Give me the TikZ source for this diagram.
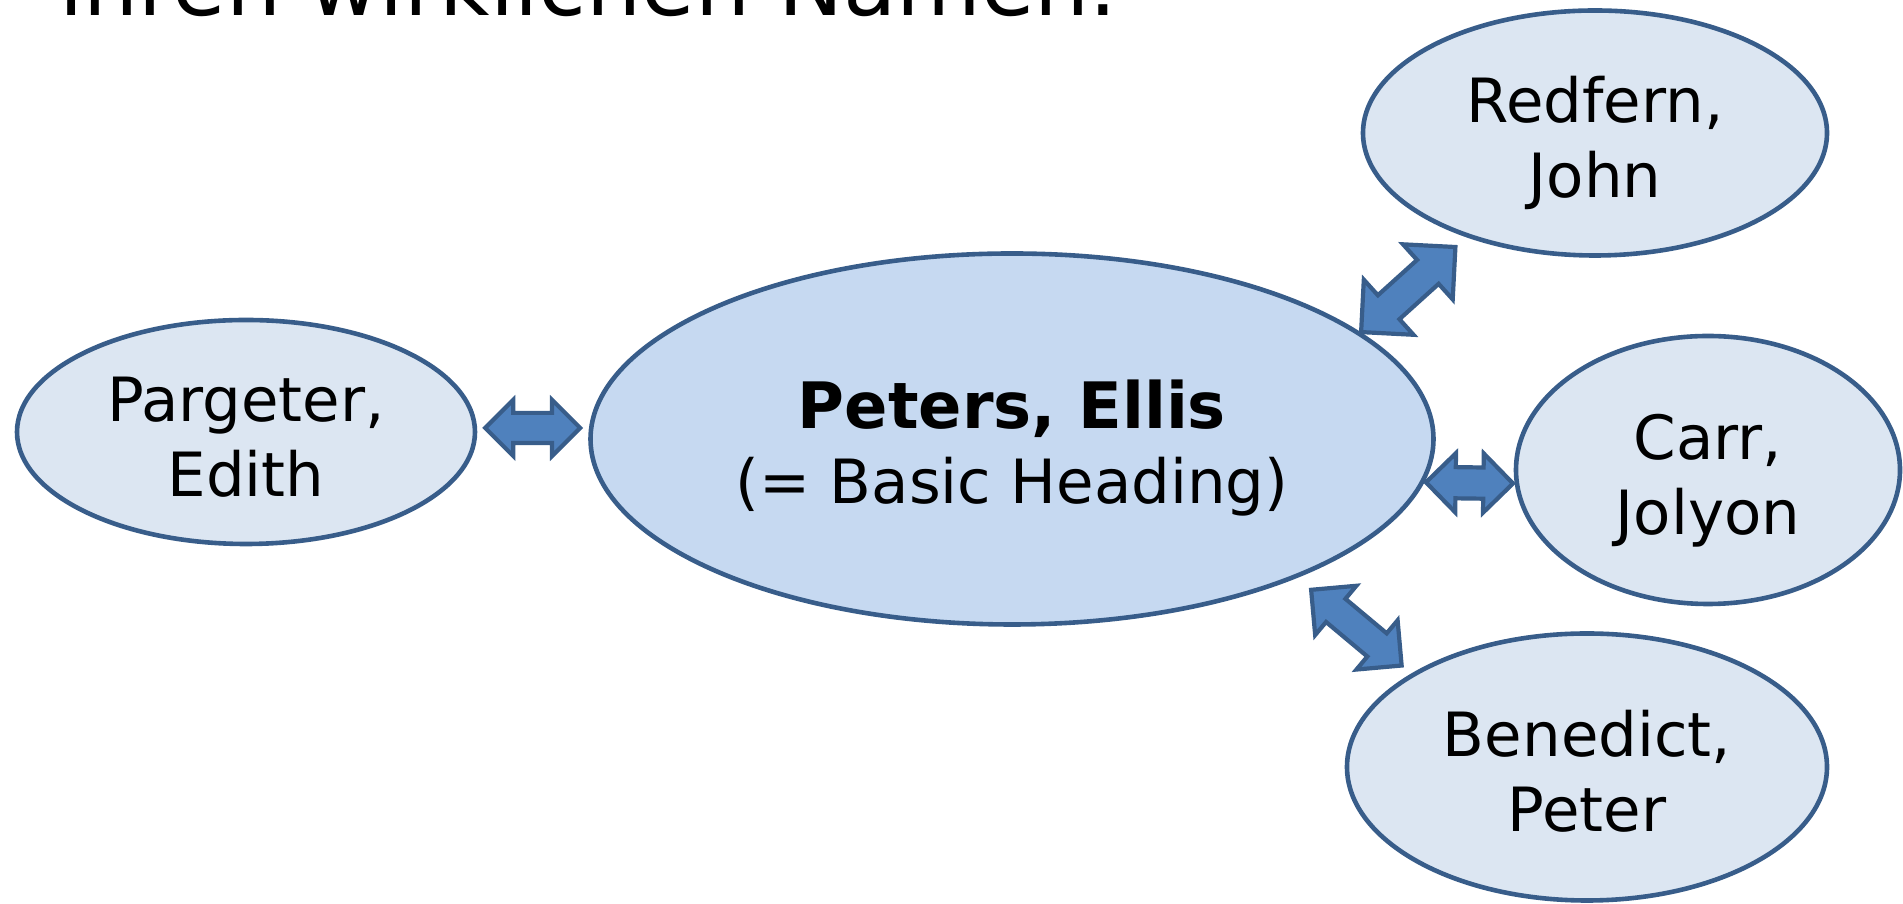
\documentclass[tikz,border=0pt]{standalone}
\usepackage{fontspec}
\setmainfont{DejaVu Sans}
\usetikzlibrary{positioning,shapes.geometric,shapes.arrows}
\definecolor{rimblue}{HTML}{385D8A}
\definecolor{paleblue}{HTML}{DCE6F2}
\definecolor{headblue}{HTML}{C6D9F1}
\definecolor{arrowblue}{HTML}{4F81BD}
% same room above the first line and below the last one in every name
\newcommand{\toproom}{\rule{0pt}{34pt}}
\newcommand{\footroom}{\rule[-7pt]{0pt}{7pt}}
\begin{document}
\begin{tikzpicture}[x=0.5pt, y=0.5pt, on grid, every node/.style={inner sep=0pt},
	person/.style={ellipse, draw=rimblue, line width=2.3pt, fill=paleblue, align=center, font=\fontsize{30.5}{37.5}\selectfont},
	heading/.style={person, fill=headblue},
	link/.style={double arrow, draw=rimblue, line width=2.1pt, fill=arrowblue, inner xsep=0pt, sloped}]

	\useasboundingbox (0,0) rectangle (1903,904);
	\clip (0,0) rectangle (1903,904);

	\node [anchor=base west, font=\fontsize{43.5}{50}\selectfont] (caption) at (59,888) {ihren wirklichen Namen.};

	\node [person, minimum width=229pt, minimum height=112pt] (Pargeter) at (246,472) {\toproom Pargeter,\\Edith\footroom};
	\node [heading, minimum width=421.5pt, minimum height=185.5pt] (Peters) [below right=3.5pt and 383pt of Pargeter]
		{\toproom\textbf{\fontsize{32}{37.5}\selectfont Peters, Ellis}\\(= Basic Heading)\footroom};
	\node [person, minimum width=232pt, minimum height=122.5pt] (Redfern) [above right=153pt and 291.5pt of Peters] {\toproom Redfern,\\John\footroom};
	\node [person, minimum width=192pt, minimum height=134pt] (Carr) [below right=15.5pt and 348pt of Peters] {\toproom Carr,\\Jolyon\footroom};
	\node [person, minimum width=240pt, minimum height=133.5pt] (Benedict) [below right=164pt and 287.5pt of Peters] {\toproom Benedict,\\Peter\footroom};

	\path (Pargeter.1) -- (Pargeter.1 -| Peters.west) node [link, midway, minimum height=47.5pt, inner ysep=6.5pt, double arrow head extend=6.5pt] (PargeterLink) {};
	\path (Peters.17) -- (Redfern.219) node [link, pos=0.45, minimum height=63.5pt, inner ysep=7pt, double arrow head extend=10.5pt] (RedfernLink) {};
	\path (Peters.-6) -- (Carr.184) node [link, midway, minimum height=43.5pt, inner ysep=6.75pt, double arrow head extend=7pt] (CarrLink) {};
	\path (Peters.-26.5) -- (Benedict.152) node [link, pos=0.52, minimum height=59pt, inner ysep=6.5pt, double arrow head extend=8.5pt] (BenedictLink) {};

\end{tikzpicture}
\end{document}
